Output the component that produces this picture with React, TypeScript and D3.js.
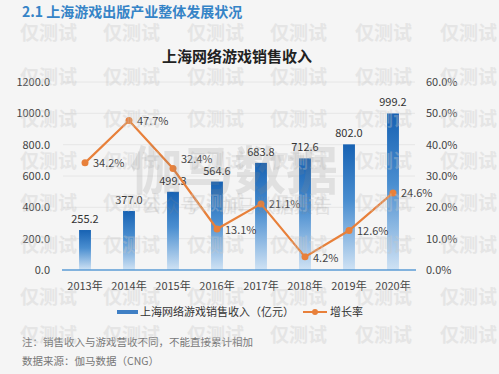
import React, { useEffect, useRef } from 'react';
import * as d3 from 'd3';

const years = ['2013年', '2014年', '2015年', '2016年', '2017年', '2018年', '2019年', '2020年'];
const revenue = [255.2, 377.0, 499.3, 564.6, 683.8, 712.6, 802.0, 999.2];
const growth = [34.2, 47.7, 32.4, 13.1, 21.1, 4.2, 12.6, 24.6];
const leftTicks = [0, 200, 400, 600, 800, 1000, 1200];
const rightTicks = [0, 10, 20, 30, 40, 50, 60];
const watermarkRows = [33, 77, 119, 161, 203, 245, 297, 335];
const watermarkCols = [20, 103, 187, 270, 355, 440];

const W = 499;
const H = 374;
const FONT = '"Noto Sans CJK SC", "Noto Sans", sans-serif';

export default function App() {
  const ref = useRef<SVGSVGElement>(null);

  useEffect(() => {
    const svg = d3.select(ref.current);
    svg.selectAll('*').remove();

    const margin = { top: 82, left: 63, right: 84, bottom: 104 };
    const plotW = W - margin.left - margin.right;
    const plotH = H - margin.top - margin.bottom;

    svg.append('rect').attr('width', W).attr('height', H).attr('fill', '#f5f5f5');

    const defs = svg.append('defs');
    const grad = defs.append('linearGradient')
      .attr('id', 'barGrad')
      .attr('x1', 0).attr('y1', 0).attr('x2', 0).attr('y2', 1);
    grad.append('stop').attr('offset', '0%').attr('stop-color', '#1762b3');
    grad.append('stop').attr('offset', '45%').attr('stop-color', '#4a8ed0');
    grad.append('stop').attr('offset', '100%').attr('stop-color', '#cfe2f4');

    // header + title
    svg.append('text')
      .attr('x', 22).attr('y', 17)
      .attr('font-family', FONT).attr('font-size', 14).attr('font-weight', 'bold')
      .attr('fill', '#3584c7')
      .text('2.1 上海游戏出版产业整体发展状况');

    svg.append('text')
      .attr('x', 237).attr('y', 62)
      .attr('text-anchor', 'middle')
      .attr('font-family', FONT).attr('font-size', 15).attr('font-weight', 'bold')
      .attr('fill', '#222')
      .text('上海网络游戏销售收入');

    const g = svg.append('g').attr('transform', `translate(${margin.left},${margin.top})`);

    const x = d3.scaleBand().domain(years).range([0, plotW]).paddingInner(0.73).paddingOuter(0.365);
    const yL = d3.scaleLinear().domain([0, 1200]).range([plotH, 0]);
    const yR = d3.scaleLinear().domain([0, 60]).range([plotH, 0]);

    // faint grid
    g.selectAll('.grid')
      .data(leftTicks.slice(1))
      .enter().append('line')
      .attr('x1', 0).attr('x2', plotW)
      .attr('y1', d => yL(d)).attr('y2', d => yL(d))
      .attr('stroke', '#e6e6e6').attr('stroke-width', 1);

    // left axis labels
    g.selectAll('.ly')
      .data(leftTicks)
      .enter().append('text')
      .attr('x', -13).attr('y', d => yL(d) + 4)
      .attr('text-anchor', 'end')
      .attr('font-family', FONT).attr('font-size', 11).attr('fill', '#444')
      .text(d => d3.format('.1f')(d));

    // right axis labels
    g.selectAll('.ry')
      .data(rightTicks)
      .enter().append('text')
      .attr('x', plotW + 11).attr('y', d => yR(d) + 4)
      .attr('text-anchor', 'start')
      .attr('font-family', FONT).attr('font-size', 11).attr('fill', '#444')
      .text(d => d3.format('.1f')(d) + '%');

    // bars
    g.selectAll('.bar')
      .data(revenue)
      .enter().append('rect')
      .attr('x', (d, i) => x(years[i])!)
      .attr('y', d => yL(d))
      .attr('width', x.bandwidth())
      .attr('height', d => plotH - yL(d))
      .attr('fill', 'url(#barGrad)');

    g.selectAll('.barLabel')
      .data(revenue)
      .enter().append('text')
      .attr('x', (d, i) => x(years[i])! + x.bandwidth() / 2)
      .attr('y', d => yL(d) - 7)
      .attr('text-anchor', 'middle')
      .attr('font-family', FONT).attr('font-size', 11).attr('fill', '#333')
      .text(d => d3.format('.1f')(d));

    // x axis line
    g.append('line')
      .attr('x1', -1).attr('x2', plotW + 1)
      .attr('y1', plotH).attr('y2', plotH)
      .attr('stroke', '#5b9bd5').attr('stroke-width', 1.5);

    g.selectAll('.xl')
      .data(years)
      .enter().append('text')
      .attr('x', d => x(d)! + x.bandwidth() / 2)
      .attr('y', plotH + 20)
      .attr('text-anchor', 'middle')
      .attr('font-family', FONT).attr('font-size', 11).attr('fill', '#444')
      .text(d => d);

    // growth line
    const line = d3.line<number>()
      .x((d, i) => x(years[i])! + x.bandwidth() / 2)
      .y(d => yR(d));

    g.append('path')
      .datum(growth)
      .attr('d', line)
      .attr('fill', 'none')
      .attr('stroke', '#e8803a')
      .attr('stroke-width', 2.2);

    g.selectAll('.dot')
      .data(growth)
      .enter().append('circle')
      .attr('cx', (d, i) => x(years[i])! + x.bandwidth() / 2)
      .attr('cy', d => yR(d))
      .attr('r', 3.5)
      .attr('fill', '#e8803a');

    const labelDy = [4, 4, -5, 5, 4, 5, 4, 4];
    g.selectAll('.rateLabel')
      .data(growth)
      .enter().append('text')
      .attr('x', (d, i) => x(years[i])! + x.bandwidth() / 2 + 8)
      .attr('y', (d, i) => yR(d) + labelDy[i])
      .attr('font-family', FONT).attr('font-size', 11).attr('fill', '#444')
      .text(d => d3.format('.1f')(d) + '%');

    // legend
    const lg = svg.append('g').attr('transform', 'translate(0,312)');
    lg.append('rect').attr('x', 117).attr('y', -2).attr('width', 21).attr('height', 4).attr('fill', '#3f7fc4');
    lg.append('text').attr('x', 140).attr('y', 4)
      .attr('font-family', FONT).attr('font-size', 11).attr('fill', '#333')
      .text('上海网络游戏销售收入（亿元）');
    lg.append('line').attr('x1', 303).attr('x2', 327).attr('y1', 0).attr('y2', 0)
      .attr('stroke', '#e8803a').attr('stroke-width', 2);
    lg.append('circle').attr('cx', 315).attr('cy', 0).attr('r', 3).attr('fill', '#e8803a');
    lg.append('text').attr('x', 330).attr('y', 4)
      .attr('font-family', FONT).attr('font-size', 11).attr('fill', '#333')
      .text('增长率');

    // notes
    svg.append('text').attr('x', 22).attr('y', 346)
      .attr('font-family', FONT).attr('font-size', 10.5).attr('fill', '#777')
      .text('注：销售收入与游戏营收不同，不能直接累计相加');
    svg.append('text').attr('x', 22).attr('y', 365)
      .attr('font-family', FONT).attr('font-size', 10.5).attr('fill', '#777')
      .text('数据来源：伽马数据（CNG）');

    // watermarks
    const wm = svg.append('g').attr('opacity', 0.35);
    watermarkRows.forEach(ry => {
      wm.selectAll(null)
        .data(watermarkCols)
        .enter().append('text')
        .attr('x', d => d)
        .attr('y', ry + 7)
        .attr('font-family', FONT).attr('font-size', 19).attr('font-weight', 'bold')
        .attr('fill', '#c8c8c8')
        .text('仅测试');
    });
    svg.append('text').attr('x', 130).attr('y', 190)
      .attr('font-family', FONT).attr('font-size', 52).attr('font-weight', 'bold')
      .attr('fill', '#888').attr('opacity', 0.18)
      .text('伽马数据');
    svg.append('text').attr('x', 142).attr('y', 213)
      .attr('font-family', FONT).attr('font-size', 19)
      .attr('fill', '#888').attr('opacity', 0.18)
      .text('公众号·伽马数据报告');
  }, []);

  return (
    <svg ref={ref} width={W} height={H} style={{ position: 'absolute', left: 0, top: 0 }} />
  );
}
